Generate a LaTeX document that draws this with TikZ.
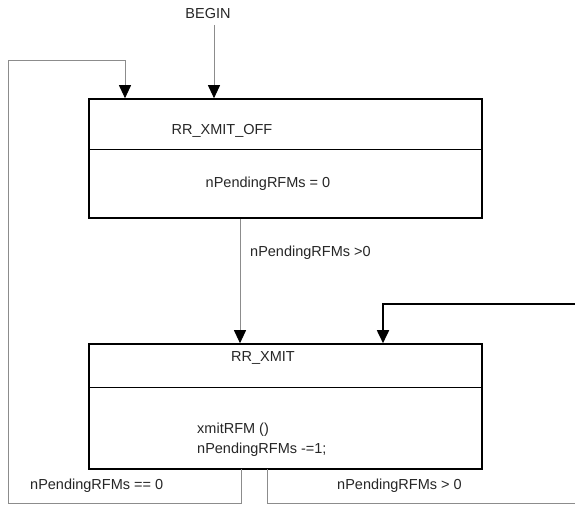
\documentclass[tikz,border=0pt]{standalone}
\usepackage{fontspec}
\setmainfont{Liberation Sans}
\usetikzlibrary{arrows.meta,calc}
\begin{document}
\begin{tikzpicture}[x=1pt,y=-1pt,
  txt/.style={font=\fontsize{14.5}{17}\selectfont, text=black!85, inner sep=0pt},
  statebox/.style={draw=black, line width=1.6pt, minimum width=393pt, inner sep=0pt},
  thin/.style={draw=black!45, line width=0.9pt},
  tip/.style={-{Triangle[width=12pt,length=13pt,color=black]}},
  bold/.style={draw=black, line width=1.8pt}]
\useasboundingbox (0,0) rectangle (575,505);
\fill[white] (0,0) rectangle (575,505);
% boxes
\node[statebox, minimum height=119pt] (box1) at (285.5,158.5) {};
\node[statebox, minimum height=125pt] (box2) at (285.5,406.5) {};
\draw[line width=1.3pt] ($(box1.north west)+(0,51)$) coordinate (d1a) -- ($(box1.north east)+(0,51)$) coordinate (d1b);
\draw[line width=1.3pt] ($(box2.north west)+(0,44)$) coordinate (d2a) -- ($(box2.north east)+(0,44)$) coordinate (d2b);
% texts
\node[txt] (t1) at (222,131) {RR\_XMIT\_OFF};
\node[txt] (a1) at (268,184) {nPendingRFMs = 0};
\node[txt] (t2) at (263,358) {RR\_XMIT};
\node[txt, anchor=west] (a2) at (197,430) {xmitRFM ()};
\node[txt, anchor=west] (a3) at (197,450) {nPendingRFMs -=1;};
\node[txt] (begin) at (208,14) {BEGIN};
\node[txt, anchor=west] (l1) at (250,253) {nPendingRFMs >0};
\node[txt, anchor=west] (l2) at (30,486) {nPendingRFMs == 0};
\node[txt, anchor=west] (l3) at (337,486) {nPendingRFMs > 0};
% coordinates
\coordinate (bx) at (214,25);
\coordinate (e1) at (241,469);
\coordinate (e2) at (267,469);
\coordinate (r1) at (575,304);
% connectors
\draw[thin, tip] (bx) -- (bx |- box1.north);
\draw[thin, tip] (box1.south -| 240,0) -- (box2.north -| 240,0);
\draw[thin, tip] (e1) -- (241,503.5) -- (8,503.5) -- (8,60) -- (125,60) -- (box1.north -| 125,0);
\draw[thin] (e2) -- (267,503.5) -- (575,503.5);
\draw[bold, tip] (r1) -- (383,304) -- (box2.north -| 383,0);
\end{tikzpicture}
\end{document}
